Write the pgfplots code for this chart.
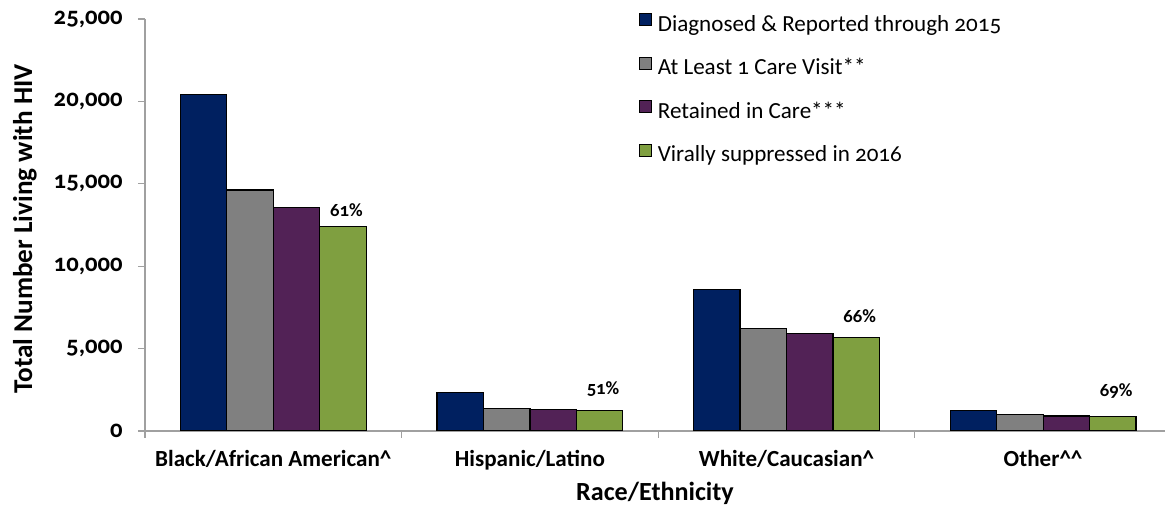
\documentclass[border=0pt]{standalone}
\usepackage{fontspec}
\setmainfont{Carlito}[Numbers=OldStyle]
\usepackage{pgfplots}
\pgfplotsset{compat=1.18}
\definecolor{cblue}{RGB}{0,32,96}
\definecolor{cgray}{RGB}{128,128,128}
\definecolor{cpurple}{RGB}{82,34,86}
\definecolor{cgreen}{RGB}{127,159,64}
\definecolor{axgray}{RGB}{160,160,160}
\begin{document}
\begin{tikzpicture}
\path[use as bounding box] (-108.75pt,-56.25pt) rectangle (765pt,323.25pt);
\begin{axis}[
  at={(0pt,0pt)}, anchor=south west,
  scale only axis, width=765pt, height=309pt,
  xmin=-0.5, xmax=3.475, ymin=0, ymax=25000,
  axis x line*=bottom, axis y line*=left,
  axis line style={axgray, line width=1pt},
  tick align=outside,
  major tick length=5.25pt, minor tick length=5.25pt,
  tick style={axgray, line width=1pt},
  every major x tick/.append style={draw=none},
  ytick={0,5000,10000,15000,20000,25000},
  scaled y ticks=false,
  /pgf/number format/.cd, 1000 sep={,}, assume math mode=true, /pgfplots/.cd,
  yticklabel style={font=\bfseries\fontsize{18.5pt}{20pt}\selectfont, xshift=-8pt},
  xtick={0,1,2,3},
  minor xtick={-0.5,0.5,1.5,2.5},
  xticklabels={Black/African American\^{}, Hispanic/Latino, White/Caucasian\^{}, Other\^{}\^{}},
  xticklabel style={font=\bfseries\fontsize{17.3pt}{20pt}\selectfont, yshift=-6pt},
  xlabel={Race/Ethnicity},
  xlabel style={font=\bfseries\fontsize{19.6pt}{22pt}\selectfont, at={(axis description cs:0.5,0)}, anchor=center, yshift=-47pt, xshift=0pt},
  ylabel={Total Number Living with HIV},
  ylabel style={font=\bfseries\fontsize{20.4pt}{22pt}\selectfont, at={(axis description cs:0,0.5)}, anchor=center, yshift=90pt, xshift=-3pt},
  ybar=0pt, bar width=0.181,
  legend cell align=left,
  legend style={at={(0.4804,1.0215)}, anchor=north west, draw=none, fill=none,
    font=\fontsize{17.3pt}{20pt}\selectfont,
    row sep=16.2pt, column sep=0pt,
    nodes={inner sep=0pt, text height=10pt, text depth=3pt}},
  legend image code/.code={\draw[#1, line width=0.9pt] (0pt,0.5pt) rectangle (9pt,9.5pt); \path[draw=none, fill=none] (0pt,5pt) -- (13.5pt,5pt);},
]
\addplot[fill=cblue, draw=black, line width=0.9pt] coordinates {(0,20440) (1,2350) (2,8580) (3,1260)};
\addplot[fill=cgray, draw=black, line width=0.9pt] coordinates {(0,14620) (1,1380) (2,6200) (3,990)};
\addplot[fill=cpurple, draw=black, line width=0.9pt] coordinates {(0,13580) (1,1300) (2,5940) (3,910)};
\addplot[fill=cgreen, draw=black, line width=0.9pt] coordinates {(0,12400) (1,1220) (2,5680) (3,870)};
\legend{Diagnosed \& Reported through 2015, At Least 1 Care Visit**, Retained in Care***, Virally suppressed in 2016}
\node[anchor=base, font=\bfseries\fontsize{14pt}{16pt}\selectfont] at (axis cs:0.285,13000) {61\%};
\node[anchor=base, font=\bfseries\fontsize{14pt}{16pt}\selectfont] at (axis cs:1.285,2190) {51\%};
\node[anchor=base, font=\bfseries\fontsize{14pt}{16pt}\selectfont] at (axis cs:2.285,6570) {66\%};
\node[anchor=base, font=\bfseries\fontsize{14pt}{16pt}\selectfont] at (axis cs:3.285,2070) {69\%};
\end{axis}
\end{tikzpicture}
\end{document}
